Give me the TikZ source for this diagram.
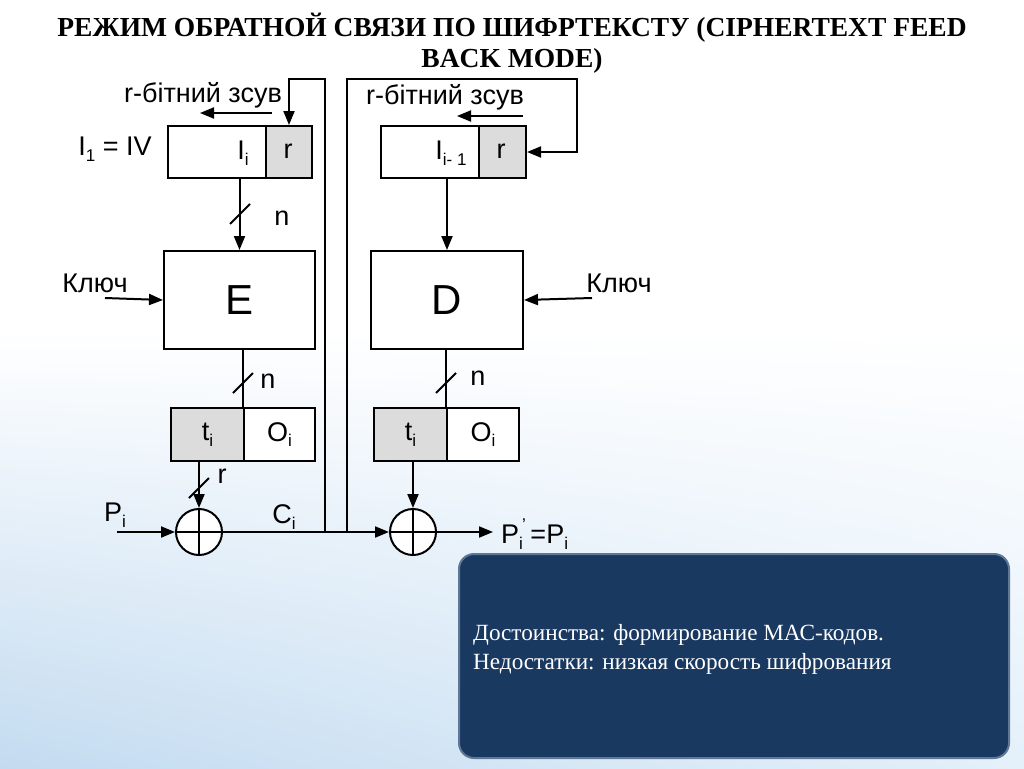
\documentclass[tikz,border=0pt]{standalone}
\usepackage{fontspec}
\setmainfont{Liberation Sans}
\newfontfamily\titlefont{Liberation Serif}
\usetikzlibrary{arrows.meta,calc,shadings}
\definecolor{cellgray}{RGB}{220,220,220}
\definecolor{navy}{RGB}{26,57,97}
\definecolor{navyedge}{RGB}{95,120,150}
\definecolor{bgblue}{RGB}{195,219,240}
\definecolor{bgblue2}{RGB}{228,240,250}
\newcommand\lsub[1]{\raisebox{-0.4ex}{\fontsize{17}{17}\selectfont #1}}
\begin{document}
\begin{tikzpicture}[x=1pt,y=-1pt,
  wire/.style={line width=2pt},
  arr/.style={-{Triangle[length=14pt,width=11pt]}},
  cell/.style={draw,line width=2pt,anchor=north west,inner sep=0pt,fill=white},
  graycell/.style={cell,fill=cellgray},
  lbl/.style={font=\fontsize{27}{27}\selectfont,inner sep=0pt},
  xor/.style={draw,circle,line width=2pt,minimum size=46pt,inner sep=0pt,fill=white},
  slash/.style={line width=2pt}
]
\useasboundingbox (0,0) rectangle (1024,768);
\fill[white] (0,0) rectangle (1024,768);
\shade[upper left=white,upper right=white,lower left=bgblue,lower right=bgblue2] (0,330) rectangle (1024,768);

% title
\node[font=\titlefont\bfseries\fontsize{27.5}{31}\selectfont,align=center] (title) at (512,43)
  {РЕЖИМ ОБРАТНОЙ СВЯЗИ ПО ШИФРТЕКСТУ (CIPHERTEXT FEED\\BACK MODE)};

% shift registers
\node[cell,minimum width=98pt,minimum height=52pt] (IL) at (167,125) {};
\node[graycell,minimum width=46pt,minimum height=52pt] (rL) at (265,125) {};
\node[cell,minimum width=98pt,minimum height=52pt] (IR) at (380,125) {};
\node[graycell,minimum width=47pt,minimum height=52pt] (rR) at (478,125) {};
\node[lbl] (IiL) at (243,153) {I\lsub{i}};
\node[lbl] (rLt) at (288,151) {r};
\node[lbl] (IiR) at (451,153) {I\lsub{i- 1}};
\node[lbl] (rRt) at (501,151) {r};

% E and D
\node[cell,minimum width=151pt,minimum height=98pt] (E) at (163,250) {};
\node[cell,minimum width=152pt,minimum height=98pt] (D) at (370,250) {};
\node[font=\fontsize{42}{42}\selectfont] (Et) at (E.center) {E};
\node[font=\fontsize{42}{42}\selectfont] (Dt) at (D.center) {D};

% output registers
\node[graycell,minimum width=73pt,minimum height=53pt] (tL) at (170,407) {};
\node[cell,minimum width=71pt,minimum height=53pt] (oL) at (243,407) {};
\node[graycell,minimum width=73pt,minimum height=53pt] (tR) at (373,407) {};
\node[cell,minimum width=72pt,minimum height=53pt] (oR) at (446,407) {};
\node[lbl] (tLt) at (tL.center) {t\lsub{i}};
\node[lbl] (oLt) at (oL.center) {O\lsub{i}};
\node[lbl] (tRt) at (tR.center) {t\lsub{i}};
\node[lbl] (oRt) at (oR.center) {O\lsub{i}};

% XORs
\node[xor] (xL) at (199,532) {};
\node[xor] (xR) at (413,532) {};
\draw[line width=2pt] (xL.north) -- (xL.south) (xL.west) -- (xL.east);
\draw[line width=2pt] (xR.north) -- (xR.south) (xR.west) -- (xR.east);

% coordinates
\coordinate (jL) at (325,532);
\coordinate (jR) at (347,532);
\coordinate (kL) at (105,298);
\coordinate (kR) at (592,298);
\coordinate (pin) at (117,532);
\coordinate (pout) at (493,532);
\coordinate (sL1) at (272,113);
\coordinate (sL2) at (200,113);
\coordinate (sR1) at (523,116);
\coordinate (sR2) at (457,116);

% wires
\draw[wire,arr] (jL) -- (325,79) -| (rL.north);
\draw[wire,arr] (jR) -- (347,79) -- (577,79) |- (rR.east);
\draw[wire,arr] (sL1) -- (sL2);
\draw[wire,arr] (sR1) -- (sR2);
\draw[wire,arr] (IL.south -| E.north) -- (E.north);
\draw[wire,arr] (IR.south -| D.north) -- (D.north);
\draw[wire,arr] (kL) -- (E.west);
\draw[wire,arr] (kR) -- (D.east);
\draw[wire] (oL.north west |- E.south) -- (oL.north west);
\draw[wire] (oR.north west |- D.south) -- (oR.north west);
\draw[wire,arr] (tL.south -| xL.north) -- (xL.north);
\draw[wire,arr] (tR.south -| xR.north) -- (xR.north);
\draw[wire,arr] (pin) -- (xL.west);
\draw[wire,arr] (xL.east) -- (xR.west);
\draw[wire,arr] (xR.east) -- (pout);

% slashes
\draw[slash] (230,224) -- (250,204);
\draw[slash] (233,393) -- (253,373);
\draw[slash] (436,393) -- (456,373);
\draw[slash] (189,498) -- (209,478);

% labels
\node[lbl] (shL) at (203,95) {r-бітний зсув};
\node[lbl] (shR) at (445,97) {r-бітний зсув};
\node[lbl] (iv) at (115,149) {I\lsub{1} = IV};
\node[lbl] (n1) at (282,218) {n};
\node[lbl] (n2) at (268,381) {n};
\node[lbl] (n3) at (478,378) {n};
\node[lbl] (rr) at (222,476) {r};
\node[lbl] (key1) at (95,283) {Ключ};
\node[lbl] (key2) at (619,283) {Ключ};
\node[lbl] (Pi) at (115,515) {P\lsub{i}};
\node[lbl] (Ci) at (284,517) {C\lsub{i}};
\node[lbl,anchor=west] (Po) at (501,534) {P\rlap{\raisebox{0.95ex}{\fontsize{17}{17}\selectfont\,'}}\lsub{i} =P\lsub{i}};

% advantages box
\node[draw=navyedge,line width=2pt,fill=navy,rounded corners=15pt,anchor=north west,minimum width=550pt,minimum height=204pt,inner sep=0pt] (adv) at (458,553) {};
\node[anchor=west,align=left,text=white,font=\titlefont\fontsize{23.2}{29}\selectfont,inner sep=0pt] (advt) at (473,649)
  {Достоинства: формирование МАС-кодов.\\Недостатки: низкая скорость шифрования};
\end{tikzpicture}
\end{document}
